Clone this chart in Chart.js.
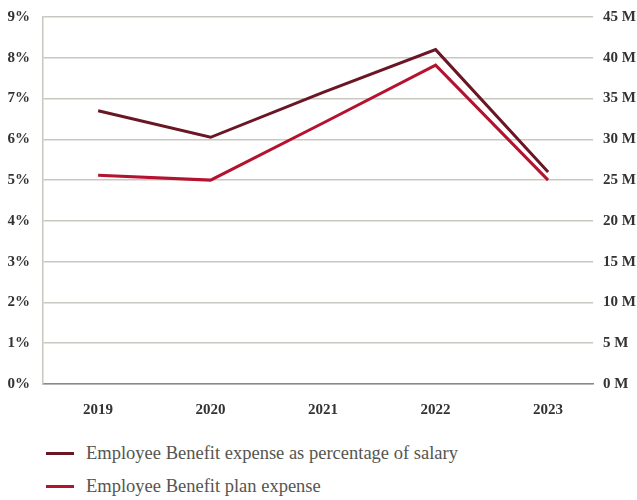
<!DOCTYPE html>
<html>
<head>
<meta charset="utf-8">
<script src="https://cdn.jsdelivr.net/npm/chart.js@4"></script>
<style>
  html, body { margin: 0; padding: 0; background: #fff; }
  #wrap { width: 637px; height: 500px; position: relative; }
  #legend { position: absolute; left: 46px; top: 437px; }
  .legend-item { display: flex; align-items: center; height: 33px; }
  .legend-swatch { width: 28px; height: 3px; margin-right: 12px; }
  .legend-text { font-family: 'Liberation Serif', serif; font-size: 18.5px; color: #555550; }
</style>
</head>
<body>
<div id="wrap">
  <canvas id="benefitChart" width="637" height="420"></canvas>
  <div id="legend"></div>
</div>
<script>
const years = ["2019", "2020", "2021", "2022", "2023"];
const pctOfSalary = [6.7, 6.05, 7.15, 8.2, 5.2];
const planExpenseM = [25.6, 25, 32, 39.1, 25];
const pctTicks = [0, 1, 2, 3, 4, 5, 6, 7, 8, 9];
const millionTicks = [0, 5, 10, 15, 20, 25, 30, 35, 40, 45];

const tickFont = { family: "'Liberation Serif', serif", size: 15, weight: "bold" };
const noColor = "rgba(0,0,0,0)";

function toPoints(values) {
  return values.map((v, i) => ({ x: i, y: v }));
}

const ctx = document.getElementById("benefitChart").getContext("2d");
const chart = new Chart(ctx, {
  type: "line",
  data: {
    datasets: [
      {
        label: "Employee Benefit expense as percentage of salary",
        data: toPoints(pctOfSalary),
        borderColor: "#6b1624",
        backgroundColor: "#6b1624",
        borderWidth: 3,
        pointRadius: 0,
        tension: 0,
        yAxisID: "y",
      },
      {
        label: "Employee Benefit plan expense",
        data: toPoints(planExpenseM),
        borderColor: "#b5122f",
        backgroundColor: "#b5122f",
        borderWidth: 3,
        pointRadius: 0,
        tension: 0,
        yAxisID: "y1",
      },
    ],
  },
  options: {
    responsive: false,
    animation: false,
    layout: { padding: { top: 17, left: 7.5, right: 1, bottom: 1 } },
    plugins: {
      tooltip: { enabled: false },
      legend: { display: false },
    },
    scales: {
      x: {
        type: "linear",
        min: -0.49,
        max: 4.4,
        // tick marks kept invisible, only used as the gap to the labels
        grid: { display: false, drawTicks: true, tickLength: 17 },
        border: { color: "#8a8a86", width: 1.5 },
        ticks: {
          stepSize: 1,
          includeBounds: false,
          maxRotation: 0,
          minRotation: 0,
          padding: 0,
          color: "#333",
          font: tickFont,
          callback: (v) => years[v] ?? "",
        },
      },
      y: {
        position: "left",
        min: pctTicks[0],
        max: pctTicks[pctTicks.length - 1],
        grid: { color: "#c9c7c1", lineWidth: 1.5, drawTicks: true, tickLength: 13, tickColor: noColor },
        border: { color: "#c9c7c1", width: 1.5 },
        ticks: {
          stepSize: 1,
          padding: 0,
          color: "#333",
          font: tickFont,
          callback: (v) => v + "%",
        },
      },
      y1: {
        position: "right",
        min: millionTicks[0],
        max: millionTicks[millionTicks.length - 1],
        grid: { display: false, drawTicks: true, tickLength: 10 },
        border: { display: false },
        ticks: {
          stepSize: 5,
          padding: 0,
          color: "#333",
          font: tickFont,
          callback: (v) => v + " M",
        },
      },
    },
  },
});

// legend below the chart, one row per series
document.getElementById("legend").innerHTML = chart.data.datasets
  .map(
    (ds) => `
    <div class="legend-item">
      <span class="legend-swatch" style="background:${ds.borderColor}"></span>
      <span class="legend-text">${ds.label}</span>
    </div>`
  )
  .join("");
</script>
</body>
</html>
